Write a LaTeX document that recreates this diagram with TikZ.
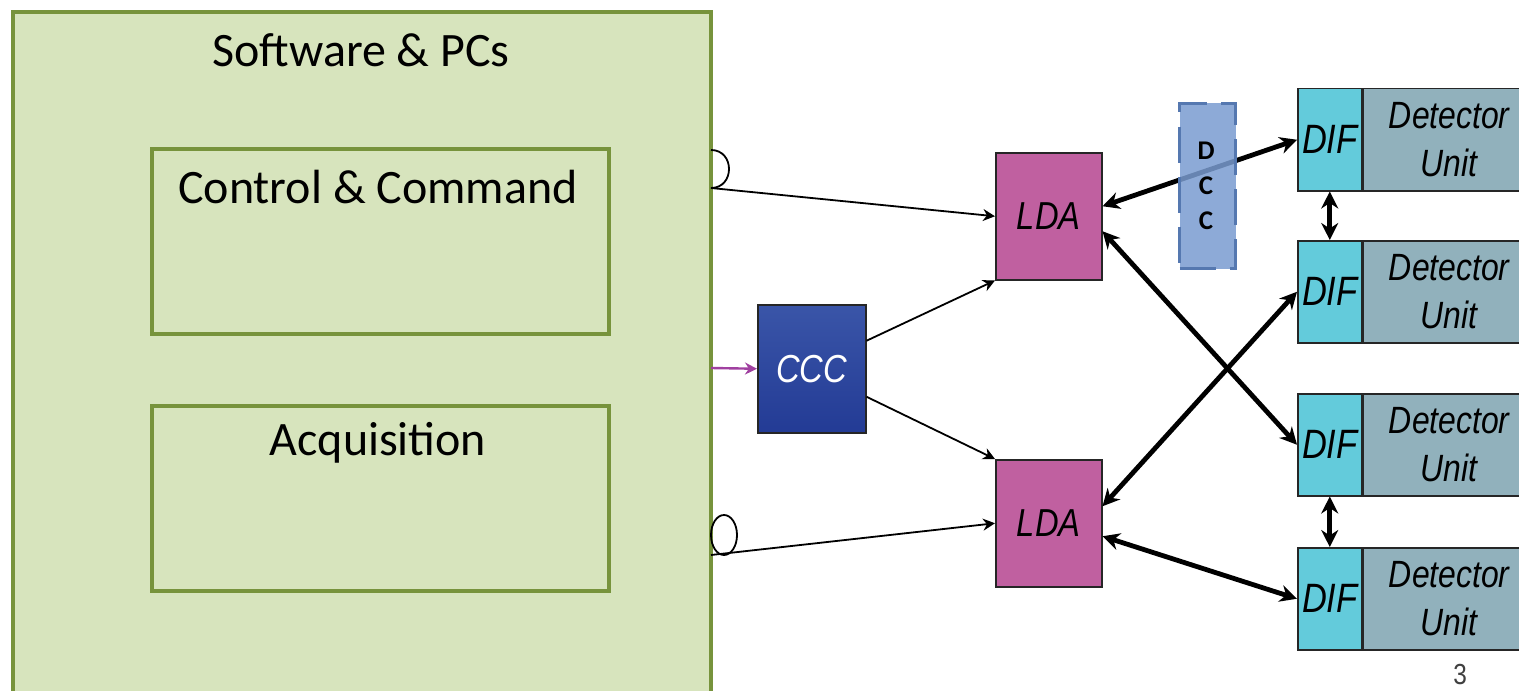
\documentclass[tikz,border=0pt]{standalone}
\usepackage{fontspec}
\setmainfont{Carlito}
\newfontfamily\arialf[FakeStretch=0.84]{Liberation Sans}
\usetikzlibrary{arrows.meta,calc,shapes.geometric}
\definecolor{gfill}{HTML}{D7E4BD}
\definecolor{gline}{HTML}{77933C}
\definecolor{ldafill}{HTML}{C060A0}
\definecolor{diffill}{HTML}{63CBDB}
\definecolor{detfill}{HTML}{91B1BC}
\definecolor{ccctop}{HTML}{3A55A8}
\definecolor{cccbot}{HTML}{233B95}
\definecolor{dccfill}{HTML}{7A9CD0}
\definecolor{dccline}{HTML}{5578B0}
\definecolor{purp}{HTML}{A040A0}
\begin{document}
\begin{tikzpicture}[x=0.5pt,y=-0.5pt,
  gbox/.style={draw=gline,fill=gfill,line width=2pt,inner sep=0pt},
  ibox/.style={draw=gline,fill=gfill,line width=1.75pt,inner sep=0pt,minimum width=228.5pt,minimum height=92.5pt,anchor=north west},
  bigtxt/.style={font=\fontsize{24}{28}\selectfont,inner sep=0pt},
  ldabox/.style={draw=black!85,fill=ldafill,line width=0.75pt,minimum width=53pt,minimum height=63.5pt,anchor=north west,inner sep=0pt,font=\arialf\itshape\fontsize{19.5}{22}\selectfont},
  difbox/.style={draw=black!85,fill=diffill,line width=0.75pt,minimum width=32pt,minimum height=51pt,anchor=north west,inner sep=0pt,font=\arialf\itshape\fontsize{20.5}{22}\selectfont},
  detbox/.style={draw=black!85,fill=detfill,line width=0.75pt,minimum width=86pt,minimum height=51pt,anchor=north west,inner sep=0pt,align=center,font=\arialf\itshape\fontsize{19}{24}\selectfont},
  thinarrow/.style={line width=0.9pt,-{Stealth[length=6pt,width=6pt]}},
  thickarrow/.style={line width=2.4pt,{Stealth[length=8.5pt,width=8.5pt]}-{Stealth[length=8.5pt,width=8.5pt]}}
]
\clip (0,0) rectangle (1519,690);
\fill[white] (0,0) rectangle (1519,690);
% software box
\node[gbox,minimum width=349pt,minimum height=360pt,anchor=north west] (sw) at (11,10) {};
\node[bigtxt] (swt) at (361,50) {Software \& PCs};
\node[ibox] (cc) at (150,147) {};
\node[bigtxt] (cct) at (378,187) {Control \& Command};
\node[ibox] (acq) at (150,404) {};
\node[bigtxt] (acqt) at (378,443) {Acquisition};
% loops
\coordinate (l1a) at (711,150);
\coordinate (l1b) at (711,188);
\draw[line width=0.9pt] (l1a) .. controls (735,150) and (735,188) .. (l1b);
\node[draw,line width=0.9pt,ellipse,minimum width=13pt,minimum height=20pt,inner sep=0pt] (loop2) at (724,535) {};
\coordinate (l2b) at (711,555);
\coordinate (pstart) at (711,368);
% LDA, CCC
\node[ldabox] (lda1) at (995,152) {LDA};
\node[ldabox] (lda2) at (995,459) {LDA};
\node[draw=black!85,line width=0.75pt,top color=ccctop,bottom color=cccbot,minimum width=54pt,minimum height=64pt,anchor=north west,inner sep=0pt,text=white,font=\arialf\itshape\fontsize{19.5}{22}\selectfont] (ccc) at (757,304) {CCC};
% DIF rows
\foreach \i/\y in {1/88,2/240,3/393,4/547}{
  \node[difbox] (dif\i) at (1297,\y) {DIF};
  \node[detbox] (det\i) at (dif\i.north east) {Detector\\Unit};
}
% thin arrows
\draw[thinarrow] (l1b) -- (lda1.west);
\draw[thinarrow] (l2b) -- (lda2.west);
\draw[line width=1.2pt,purp,-{Stealth[length=6pt,width=6pt]}] (pstart) -- (ccc.west);
\draw[thinarrow] ($(ccc.east)+(0,-28)$) -- (lda1.south west);
\draw[thinarrow] ($(ccc.east)+(0,28)$) -- (lda2.north west);
% thick arrows
\draw[thickarrow] ($(lda1.east)+(0,-10)$) -- (dif1.west);
\draw[thickarrow] ($(lda1.east)+(0,15)$) -- (dif3.west);
\draw[thickarrow] ($(lda2.east)+(0,-17)$) -- (dif2.west);
\draw[thickarrow] ($(lda2.east)+(0,13)$) -- (dif4.west);
\draw[thickarrow] (dif1.south) -- (dif2.north);
\draw[thickarrow] (dif3.south) -- (dif4.north);
% DCC
\node[fill=dccfill,fill opacity=0.85,draw=dccline,line width=1.5pt,dash pattern=on 18pt off 7pt,minimum width=28pt,minimum height=82.5pt,anchor=north west,inner sep=0pt] (dcc) at (1178,102) {};
\node[align=center,font=\bfseries\fontsize{13.5}{17.5}\selectfont,inner sep=0pt] (dcct) at (1206,186) {D\\C\\C};
% page number
\node[font=\arialf\fontsize{14.5}{17}\selectfont,text=black!75,inner sep=0pt] (pg) at (1460,675) {3};
\end{tikzpicture}
\end{document}
